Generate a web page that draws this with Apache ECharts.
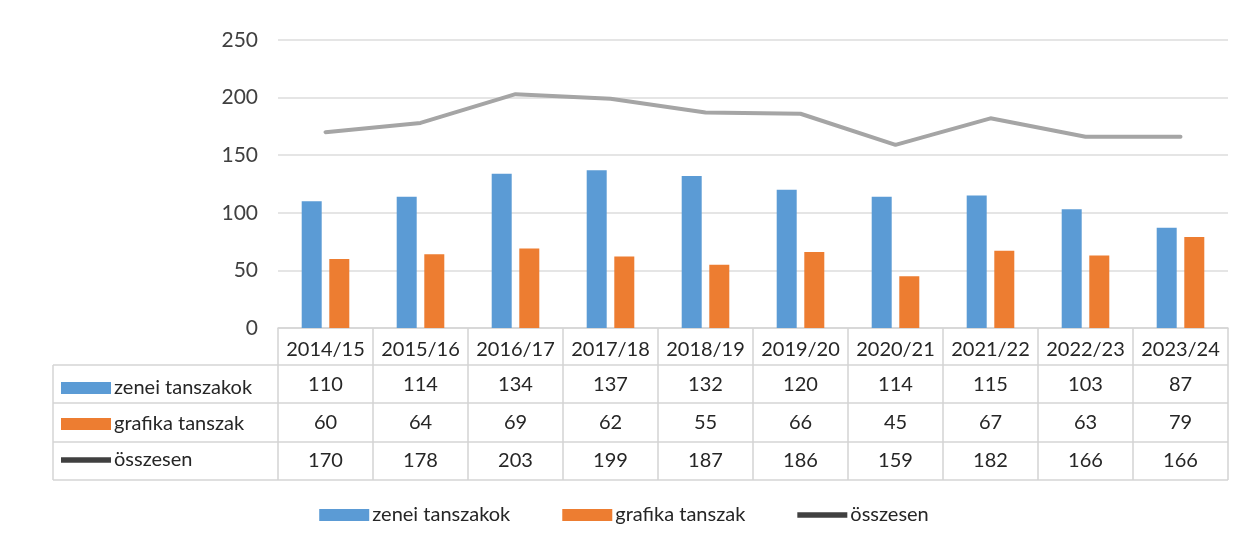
<!DOCTYPE html>
<html>
<head>
<meta charset="utf-8">
<script src="https://cdn.jsdelivr.net/npm/echarts@6/dist/echarts.min.js"></script>
<style>
  html, body { margin: 0; padding: 0; background: #fff; }
  #chart { width: 1248px; height: 546px; }
</style>
</head>
<body>
<div id="chart"></div>
<script>
  // adatok
  const years = ['2014/15', '2015/16', '2016/17', '2017/18', '2018/19', '2019/20', '2020/21', '2021/22', '2022/23', '2023/24']
  const zenei = [110, 114, 134, 137, 132, 120, 114, 115, 103, 87]
  const grafika = [60, 64, 69, 62, 55, 66, 45, 67, 63, 79]
  const osszesen = [170, 178, 203, 199, 187, 186, 159, 182, 166, 166]
  const seriesNames = ['zenei tanszakok', 'grafika tanszak', 'összesen']

  const font = 'Lato, "Liberation Sans", sans-serif'
  const txt = '#262626'
  const border = '#d4d4d4'
  const colors = ['#5b9bd5', '#ed7d31', '#a5a5a5']

  // plot area
  const gLeft = 278, gRight = 20, gTop = 40, gBottom = 218
  const axisY = 546 - gBottom
  const tableLeft = 53, tableRight = 1248 - gRight
  const rowLines = [365, 403, 442, 480]

  // one extra x axis per table row, label = value of the row
  function rowAxis(values, offset) {
    return {
      type: 'category',
      data: years,
      position: 'bottom',
      offset: offset,
      axisLine: { show: false },
      axisTick: { show: false },
      axisLabel: {
        interval: 0,
        margin: 12,
        fontFamily: font,
        fontSize: 20,
        color: txt,
        formatter: (v, i) => String(values[i])
      }
    }
  }

  const legendData = [
    { name: seriesNames[0], icon: 'rect', itemStyle: { color: colors[0] } },
    { name: seriesNames[1], icon: 'rect', itemStyle: { color: colors[1] } },
    { name: seriesNames[2], icon: 'path://M0,0 L100,0 L100,11 L0,11 Z', itemStyle: { color: '#404040' } }
  ]

  // table frame (plain lines)
  const frame = []
  rowLines.forEach(y => {
    frame.push({ type: 'line', shape: { x1: tableLeft, y1: y, x2: tableRight, y2: y }, style: { stroke: border, lineWidth: 1.5 } })
  })
  frame.push({ type: 'line', shape: { x1: tableLeft, y1: rowLines[0], x2: tableLeft, y2: rowLines[3] }, style: { stroke: border, lineWidth: 1.5 } })

  const chart = echarts.init(document.getElementById('chart'))
  chart.setOption({
    animation: false,
    textStyle: { fontFamily: font },
    grid: { left: gLeft, right: gRight, top: gTop, bottom: gBottom },
    legend: [
      {
        data: legendData,
        bottom: 16,
        left: 'center',
        itemWidth: 50,
        itemHeight: 12,
        itemGap: 52,
        symbolKeepAspect: true,
        selectedMode: false,
        textStyle: { fontFamily: font, fontSize: 20, color: txt, padding: [0, 0, 0, -2] }
      },
      {
        data: legendData,
        orient: 'vertical',
        left: 56,
        top: 373,
        itemWidth: 50,
        itemHeight: 12,
        itemGap: 16,
        symbolKeepAspect: true,
        selectedMode: false,
        textStyle: { fontFamily: font, fontSize: 20, color: txt, padding: [0, 0, 0, -2] }
      }
    ],
    xAxis: [
      {
        type: 'category',
        data: years,
        axisLine: { lineStyle: { color: border, width: 1.5 } },
        axisTick: { show: true, interval: 0, length: 480 - axisY, lineStyle: { color: border, width: 1.5 } },
        axisLabel: { interval: 0, margin: 12, fontFamily: font, fontSize: 20, color: txt }
      },
      rowAxis(zenei, 35),
      rowAxis(grafika, 73),
      rowAxis(osszesen, 111)
    ],
    yAxis: {
      type: 'value',
      min: 0,
      max: 250,
      interval: 50,
      axisLine: { show: false },
      axisTick: { show: false },
      axisLabel: { margin: 20, fontFamily: font, fontSize: 21, color: '#404040' },
      splitLine: { lineStyle: { color: '#dcdcdc', width: 1.5 } }
    },
    graphic: frame,
    series: [
      {
        name: seriesNames[0],
        type: 'bar',
        data: zenei,
        barWidth: 20,
        barGap: '38%',
        itemStyle: { color: colors[0] }
      },
      {
        name: seriesNames[1],
        type: 'bar',
        data: grafika,
        barWidth: 20,
        itemStyle: { color: colors[1] }
      },
      {
        name: seriesNames[2],
        type: 'line',
        data: osszesen,
        symbol: 'none',
        z: 5,
        lineStyle: { color: colors[2], width: 4, cap: 'round' },
        itemStyle: { color: colors[2] }
      }
    ]
  })
</script>
</body>
</html>
